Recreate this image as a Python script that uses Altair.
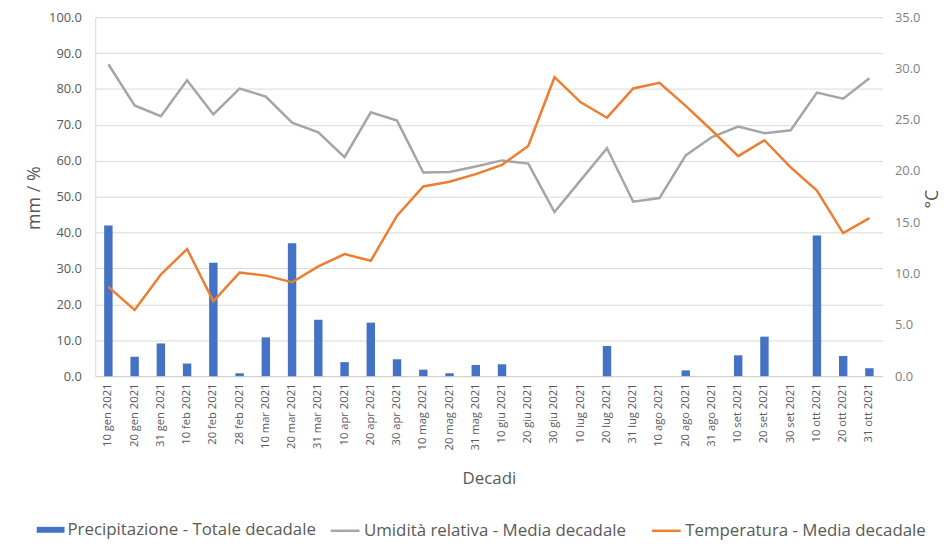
import altair as alt
import pandas as pd

decadi = [
    "10 gen 2021", "20 gen 2021", "31 gen 2021",
    "10 feb 2021", "20 feb 2021", "28 feb 2021",
    "10 mar 2021", "20 mar 2021", "31 mar 2021",
    "10 apr 2021", "20 apr 2021", "30 apr 2021",
    "10 mag 2021", "20 mag 2021", "31 mag 2021",
    "10 giu 2021", "20 giu 2021", "30 giu 2021",
    "10 lug 2021", "20 lug 2021", "31 lug 2021",
    "10 ago 2021", "20 ago 2021", "31 ago 2021",
    "10 set 2021", "20 set 2021", "30 set 2021",
    "10 ott 2021", "20 ott 2021", "31 ott 2021",
]
precipitazione = [42.0, 5.4, 9.1, 3.5, 31.6, 0.8, 10.8, 37.0, 15.7, 3.9, 14.9, 4.7,
                  1.8, 0.8, 3.1, 3.3, 0.0, 0.0, 0.0, 8.4, 0.0, 0.0, 1.6, 0.0,
                  5.8, 11.0, 0.0, 39.2, 5.6, 2.2]
umidita = [86.9, 75.4, 72.4, 82.4, 72.9, 80.1, 77.9, 70.6, 67.9, 61.0, 73.5, 71.2,
           56.7, 56.9, 58.4, 60.1, 59.2, 45.7, 54.6, 63.5, 48.6, 49.6, 61.5, 66.6,
           69.5, 67.7, 68.5, 79.0, 77.3, 83.0]
temperatura = [8.7, 6.45, 9.9, 12.4, 7.3, 10.1, 9.8, 9.15, 10.7, 11.9, 11.25, 15.65,
               18.5, 18.95, 19.7, 20.6, 22.45, 29.15, 26.7, 25.2, 28.05, 28.6, 26.35, 23.95,
               21.45, 23.0, 20.35, 18.1, 13.95, 15.4]

S_P = "Precipitazione - Totale decadale"
S_U = "Umidità relativa - Media decadale"
S_T = "Temperatura - Media decadale"

df = pd.DataFrame({
    "Decade": decadi,
    "Prec": precipitazione,
    "Umid": umidita,
    "Temp": temperatura,
})

GRAY_TXT = "#595959"
FONT = "Open Sans"

x_enc = alt.X(
    "Decade:N", sort=decadi,
    scale=alt.Scale(paddingInner=0, paddingOuter=0),
    axis=alt.Axis(
        title="Decadi", labelAngle=270, labelFontSize=11.3, labelColor=GRAY_TXT,
        labelPadding=7, ticks=False, domainColor="#d0d0d0", grid=False,
        titleFontSize=17, titleColor=GRAY_TXT, titleFontWeight="normal",
        titleY=103, titleBaseline="middle",
    ),
)

bars = alt.Chart().mark_bar(size=8.5).transform_calculate(
    sp="'" + S_P + "'"
).encode(
    x=x_enc,
    y=alt.Y(
        "Prec:Q", scale=alt.Scale(domain=[0, 100], nice=False),
        axis=alt.Axis(
            values=list(range(0, 101, 10)), format=".1f", title="mm / %",
            labelFontSize=13, labelColor=GRAY_TXT, labelPadding=14, ticks=False,
            domain=True, domainColor="#d9d9d9", grid=True, gridColor="#d9d9d9",
            titleFontSize=18, titleColor=GRAY_TXT, titleFontWeight="normal",
            titleAngle=270, titleX=-61, titleY=182, titleAlign="center",
            titleBaseline="middle",
        ),
    ),
    fill=alt.Fill(
        "sp:N", scale=alt.Scale(domain=[S_P], range=["#4472C4"]),
        legend=alt.Legend(
            title=None, orient="none", legendX=-59, legendY=503,
            symbolType="M-1,-0.214H1V0.214H-1Z", symbolSize=784,
            symbolStrokeWidth=0, labelFontSize=17, labelColor=GRAY_TXT,
            labelOffset=3, padding=0, labelLimit=0,
        ),
    ),
)

line_legend = alt.Legend(
    title=None, orient="none", legendX=236, legendY=502, direction="horizontal",
    symbolType="stroke", symbolSize=841, symbolStrokeWidth=2.5,
    labelFontSize=17, labelColor=GRAY_TXT, labelOffset=3, columnPadding=20,
    padding=0, labelLimit=0,
)
stroke_scale = alt.Scale(domain=[S_U, S_T], range=["#A5A5A5", "#ED7D31"])

umid_line = alt.Chart().mark_line(strokeWidth=2.5).transform_calculate(
    s="'" + S_U + "'"
).encode(
    x=x_enc,
    y=alt.Y("Umid:Q", scale=alt.Scale(domain=[0, 100], nice=False), axis=None),
    stroke=alt.Stroke("s:N", scale=stroke_scale, legend=line_legend),
)

temp_line = alt.Chart().mark_line(strokeWidth=2.5).transform_calculate(
    s="'" + S_T + "'"
).encode(
    x=x_enc,
    y=alt.Y(
        "Temp:Q", scale=alt.Scale(domain=[0, 35], nice=False),
        axis=alt.Axis(
            orient="right", values=[0, 5, 10, 15, 20, 25, 30, 35], format=".1f",
            title="°C", labelFontSize=13, labelColor="#7f7f7f", labelPadding=12,
            ticks=False, domain=False, grid=False,
            titleFontSize=18, titleColor=GRAY_TXT, titleFontWeight="normal",
            titleAngle=270, titleX=50, titleY=183, titleAlign="center",
            titleBaseline="middle",
        ),
    ),
    stroke=alt.Stroke("s:N", scale=stroke_scale, legend=line_legend),
)

chart = alt.layer(bars, umid_line, temp_line, data=df).resolve_scale(
    y="independent"
).properties(
    width=794, height=362,
    autosize=alt.AutoSizeParams(type="none"),
    padding={"left": 88, "top": 7, "right": 62, "bottom": 163},
).configure(
    font=FONT,
).configure_view(
    stroke=None,
)

chart.save("out.html", embed_options={"renderer": "svg", "actions": False})
